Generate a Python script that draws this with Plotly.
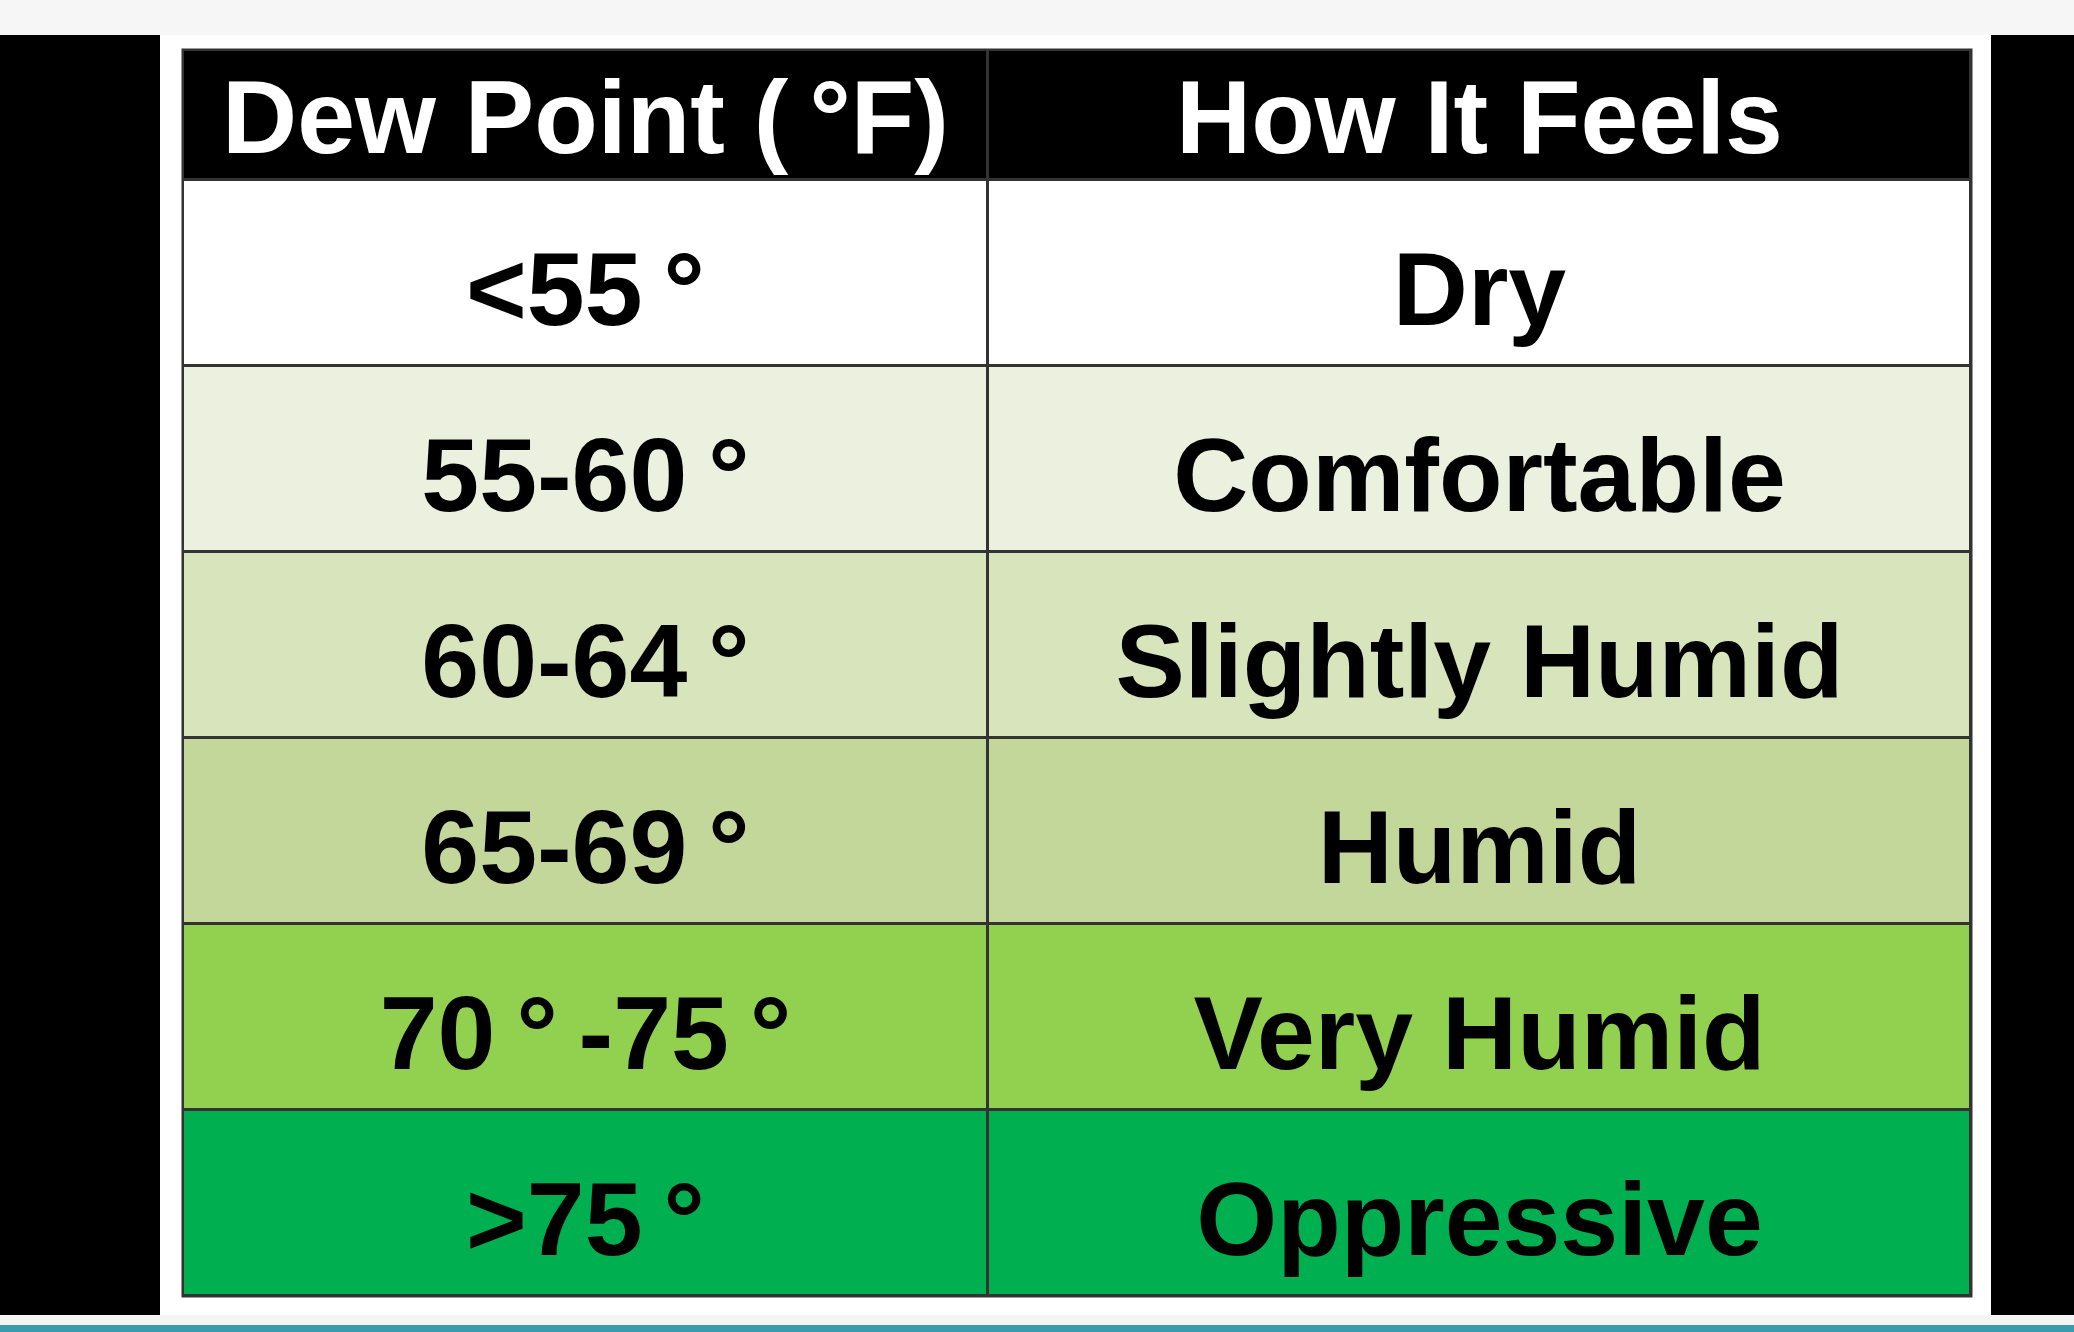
import plotly.graph_objects as go

# table content
headers = ["Dew Point (\u2009°F)", "How It Feels"]
dew_points = ["<55\u2009°", "55-60\u2009°", "60-64\u2009°", "65-69\u2009°",
              "70\u2009°\u2009-75\u2009°", ">75\u2009°"]
feels = ["Dry", "Comfortable", "Slightly Humid", "Humid", "Very Humid", "Oppressive"]
row_colors = ["#FFFFFF", "#EBF1DE", "#D8E4BC", "#C4D79B", "#92D050", "#00B050"]
header_color = "#000000"

W, H = 2074, 1332
# table box in page pixels
left, right, top, bottom = 183, 1971, 50, 1296
col_w = [805, 983]
head_h = 130
row_h = (bottom - top - head_h) / len(dew_points)
line_w = 3
FONT = "Liberation Sans, Arial, sans-serif"

# cell edges in table pixels (y counted downwards from the top)
x_edges = [0, col_w[0], col_w[0] + col_w[1]]
y_edges = [0, head_h] + [head_h + row_h * (i + 1) for i in range(len(dew_points))]

n = len(dew_points) + 1
colors = [header_color] + row_colors
colorscale = []
for i, c in enumerate(colors):
    colorscale.append([i / n, c])
    colorscale.append([(i + 1) / n, c])

z = [[i, i] for i in range(n)]
text = [headers] + [[a, b] for a, b in zip(dew_points, feels)]

fig = go.Figure()
fig.add_trace(go.Heatmap(
    x=x_edges, y=y_edges, z=z,
    zmin=-0.5, zmax=n - 0.5,
    colorscale=colorscale, showscale=False,
    xgap=line_w, ygap=line_w, hoverinfo="skip",
))

# cell labels
xc = [(x_edges[j] + x_edges[j + 1]) / 2 for j in range(2)]
for i in range(n):
    yc = (y_edges[i] + y_edges[i + 1]) / 2 + (12 if i == 0 else 26)
    fig.add_trace(go.Scatter(
        x=xc, y=[yc, yc], mode="text",
        text=["<b>%s</b>" % t for t in text[i]],
        textposition="middle center",
        textfont=dict(family=FONT, size=104,
                      color="#FFFFFF" if i == 0 else "#000000"),
        hoverinfo="skip", showlegend=False,
    ))

fig.update_xaxes(range=[-line_w / 2, x_edges[-1] + line_w / 2],
                 domain=[(left - line_w / 2) / W, (right + line_w / 2) / W],
                 visible=False, fixedrange=True)
fig.update_yaxes(range=[y_edges[-1] + line_w / 2, -line_w / 2],
                 domain=[1 - (bottom + line_w / 2) / H, 1 - (top - line_w / 2) / H],
                 visible=False, fixedrange=True)

# page decoration around the table
fig.update_layout(
    shapes=[
        dict(type="rect", xref="paper", yref="paper", x0=0, x1=1, y0=1 - 35 / H, y1=1,
             fillcolor="#F6F6F6", line_width=0, layer="below"),
        dict(type="rect", xref="paper", yref="paper", x0=0, x1=160 / W,
             y0=1 - 1315 / H, y1=1 - 35 / H, fillcolor="#000000", line_width=0, layer="below"),
        dict(type="rect", xref="paper", yref="paper", x0=1991 / W, x1=1,
             y0=1 - 1315 / H, y1=1 - 35 / H, fillcolor="#000000", line_width=0, layer="below"),
        dict(type="rect", xref="paper", yref="paper", x0=0, x1=1,
             y0=1 - 1325 / H, y1=1 - 1315 / H, fillcolor="#F4F4F4", line_width=0, layer="below"),
        dict(type="rect", xref="paper", yref="paper", x0=0, x1=1,
             y0=0, y1=1 - 1325 / H, fillcolor="#3A9AAE", line_width=0, layer="below"),
    ],
    width=W, height=H,
    margin=dict(l=0, r=0, t=0, b=0),
    paper_bgcolor="#FFFFFF",
    plot_bgcolor="#333333",
    showlegend=False,
)

fig.write_html("out.html", config={"displayModeBar": False},
               post_script="document.body.style.margin = '0px';")
